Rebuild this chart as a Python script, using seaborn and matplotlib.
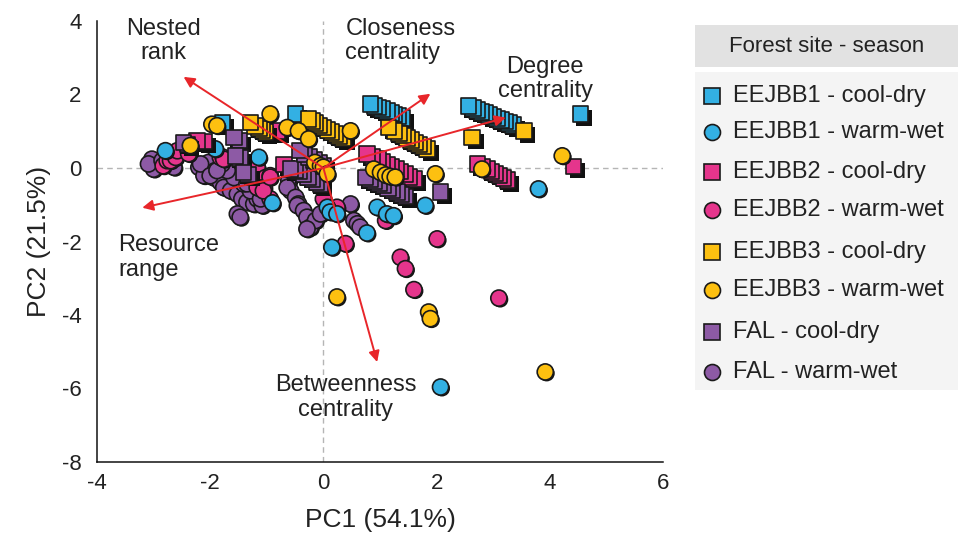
import matplotlib
matplotlib.use("Agg")
import matplotlib.pyplot as plt
import matplotlib.patheffects as pe
import seaborn as sns
import pandas as pd

# ---- data ----
groups = ["EEJBB1", "EEJBB2", "EEJBB3", "FAL"]
seasons = ["cool-dry", "warm-wet"]
colors = {"EEJBB1": "#33B0E3", "EEJBB2": "#E5358C", "EEJBB3": "#FDC010", "FAL": "#8D5AA5"}

# cool-dry (squares)
eejbb1_cd_x = [3.35, 3.28, 3.21, 3.14, 3.07, 3.00, 2.93, 2.86, 2.79, 2.71, 2.64, 2.56, 4.54,
               1.40, 1.33, 1.26, 1.19, 1.12, 1.04, 0.97, 0.90, 0.83, -0.49, -1.78]
eejbb1_cd_y = [1.17, 1.22, 1.26, 1.31, 1.35, 1.40, 1.44, 1.49, 1.53, 1.58, 1.63, 1.69, 1.47,
               1.36, 1.41, 1.45, 1.50, 1.55, 1.60, 1.65, 1.69, 1.74, 1.47, 1.22]

eejbb2_cd_x = [1.60, 1.52, 1.44, 1.36, 1.28, 1.20, 1.12, 1.04, 0.96, 0.87, 0.77,
               3.25, 3.18, 3.11, 3.04, 2.97, 2.90, 2.81, 2.72, 4.42, -0.82, -2.10, -2.23, -0.70]
eejbb2_cd_y = [-0.30, -0.24, -0.17, -0.10, -0.03, 0.03, 0.10, 0.17, 0.24, 0.31, 0.38,
               -0.33, -0.27, -0.21, -0.15, -0.09, -0.03, 0.04, 0.11, 0.04, 1.01, 0.72, 0.74, 0.10]

eejbb3_cd_x = [-1.02, -1.08, -1.14, -1.21, -1.29,
               0.35, 0.28, 0.21, 0.14, 0.07, 0.00, -0.07, -0.14, -0.20, -0.26,
               1.83, 1.76, 1.69, 1.62, 1.55, 1.48, 1.41, 1.34, 1.26, 1.15, 3.54, 2.63]
eejbb3_cd_y = [0.98, 1.03, 1.08, 1.14, 1.24,
               0.80, 0.86, 0.92, 0.98, 1.04, 1.10, 1.16, 1.22, 1.28, 1.33,
               0.52, 0.58, 0.64, 0.70, 0.76, 0.82, 0.88, 0.94, 1.00, 1.10, 1.01, 0.83]

fal_cd_x = [1.45, 1.38, 1.30, 1.22, 1.14, 1.06, 0.98, 0.90, 0.82, 0.74, 2.07,
            -0.05, -0.12, -0.19, -0.27, -0.35, -0.43, -0.50, -0.58,
            0.00, -0.08, -0.17, -0.25, -0.33, -0.41,
            -2.40, -2.47, -1.48, -1.58, -1.47, -1.55, -1.33, -1.41]
fal_cd_y = [-0.78, -0.72, -0.66, -0.60, -0.54, -0.48, -0.42, -0.37, -0.31, -0.26, -0.66,
            -0.45, -0.38, -0.31, -0.24, -0.17, -0.10, -0.05, -0.03,
            0.05, 0.13, 0.22, 0.30, 0.38, 0.47,
            0.64, 0.70, 0.75, 0.83, 0.27, 0.33, -0.18, -0.12]

# warm-wet (circles)
fal_ww_x = [-3.03, -3.00, -3.09, -2.85, -2.64, -2.20, -2.03, -2.11, -1.94, -1.82, -1.76, -1.64,
            -1.52, -1.44, -1.35, -1.23, -1.17, -1.08, -1.29, -1.41, -1.58, -1.70, -1.79, -1.91,
            -2.17, -2.00, -1.88, -1.35, -1.11, -1.52, -1.47,
            -0.61, -0.58, -0.64, -0.49, -0.44, -0.46, -0.35, -0.29, -0.23, -0.14, -0.05, -0.29,
            0.48, 0.54, 0.60, 0.65]
fal_ww_y = [0.24, -0.03, 0.11, 0.20, 0.02, 0.02, 0.15, -0.21, -0.26, -0.39, -0.53, -0.62,
            -0.71, -0.84, -0.93, -0.98, -0.84, -1.02, -0.62, -0.43, -0.26, -0.07, 0.11, -0.07,
            0.11, -0.21, -0.07, -0.43, -0.84, -1.25, -1.34,
            -0.34, -0.62, -0.53, -0.80, -0.98, -1.02, -1.16, -1.34, -1.61, -1.43, -1.25, -1.66,
            -0.98, -1.43, -1.52, -1.61]

eejbb2_ww_x = [-2.83, -2.76, -2.70, -2.61, -2.58, -2.38, -1.82, -1.77, -1.76, -1.35, -1.17,
               -1.02, -1.05, -0.94, -0.94, -1.17, -1.06, -0.94, 0.00, 0.24,
               1.10, 0.39, 1.36, 1.45, 1.60, 2.01, 3.10]
eejbb2_ww_y = [0.06, 0.20, 0.20, 0.29, 0.47, 0.39, 0.29, 0.29, 0.24, 0.02, 0.02,
               -0.26, -0.53, -0.21, -0.84, -0.53, -0.62, -0.25, -0.84, -1.07,
               -1.43, -2.06, -2.43, -2.74, -3.31, -1.93, -3.54]

eejbb1_ww_x = [-2.79, -1.91, -1.14, -0.90, 0.07, 0.12, 0.24, 0.95, 1.12, 1.24,
               0.15, 0.77, 1.80, 3.80, 2.07]
eejbb1_ww_y = [0.47, 0.52, 0.29, -0.95, -1.07, -1.20, -1.25, -1.07, -1.25, -1.30,
               -2.16, -1.77, -1.02, -0.57, -5.96]

eejbb3_ww_x = [-2.35, -1.97, -1.88, -0.94, -0.64, -0.44, -0.26, 0.48, -0.15, -0.05, 0.00, 0.07,
               0.89, 1.01, 1.10, 1.18, 1.27, 1.98, 2.80, 4.22,
               0.24, 1.86, 1.89, 3.92]
eejbb3_ww_y = [0.61, 1.19, 1.15, 1.47, 1.10, 1.01, 0.79, 1.01, 0.15, 0.06, 0.02, -0.16,
               -0.03, -0.12, -0.19, -0.23, -0.25, -0.16, -0.03, 0.33,
               -3.51, -3.92, -4.10, -5.55]

# loadings (arrow tips) and labels
load_names = ["Nested\nrank", "Closeness\ncentrality", "Degree\ncentrality",
              "Resource\nrange", "Betweenness\ncentrality"]
load_x = [-2.47, 1.89, 3.22, -3.20, 0.95]
load_y = [2.48, 2.02, 1.37, -1.08, -5.28]
label_x = [-2.83, 0.39, 3.92, -3.62, 0.39]
label_y = [3.46, 3.46, 2.42, -2.44, -6.24]
label_ha = ["center", "left", "center", "left", "center"]

# drawing order of the series (later ones sit on top)
series = [
    ("FAL", "warm-wet", fal_ww_x, fal_ww_y),
    ("EEJBB2", "warm-wet", eejbb2_ww_x, eejbb2_ww_y),
    ("EEJBB1", "warm-wet", eejbb1_ww_x, eejbb1_ww_y),
    ("EEJBB1", "cool-dry", eejbb1_cd_x, eejbb1_cd_y),
    ("EEJBB2", "cool-dry", eejbb2_cd_x, eejbb2_cd_y),
    ("EEJBB3", "cool-dry", eejbb3_cd_x, eejbb3_cd_y),
    ("FAL", "cool-dry", fal_cd_x, fal_cd_y),
    ("EEJBB3", "warm-wet", eejbb3_ww_x, eejbb3_ww_y),
]

sns.set_style("white")
plt.rcParams["font.family"] = ["Liberation Sans", "DejaVu Sans"]
plt.rcParams["axes.unicode_minus"] = False

fig = plt.figure(figsize=(9.58, 5.42), dpi=100)
ax = fig.add_axes([97 / 958, 80 / 542, 566 / 958, 441 / 542])

ax.axhline(0, color="#b5b5b5", lw=1, ls=(0, (4, 3)), zorder=0)
ax.axvline(0, color="#b5b5b5", lw=1, ls=(0, (4, 3)), zorder=0)

for site, season, xs, ys in series:
    df = pd.DataFrame({"PC1": xs, "PC2": ys})
    square = season == "cool-dry"
    effects = [pe.SimplePatchShadow(offset=(2.8, -2.8) if square else (1, -1),
                                    shadow_rgbFace="#111111", alpha=1), pe.Normal()]
    sns.scatterplot(data=df, x="PC1", y="PC2", ax=ax, color=colors[site],
                    marker="s" if square else "o", s=125 if square else 135,
                    edgecolor="#1a1a1a", linewidth=1.2, legend=False,
                    path_effects=effects, zorder=2)

for name, lx, ly, tx, ty, ha in zip(load_names, load_x, load_y, label_x, label_y, label_ha):
    ax.annotate("", xy=(lx, ly), xytext=(0, 0),
                arrowprops=dict(arrowstyle="-|>", color="#E8262A", lw=1.4,
                                mutation_scale=16, shrinkA=0, shrinkB=0), zorder=3)
    ax.text(tx, ty, name, ha=ha, va="center", multialignment=ha, fontsize=17,
            color="#222222", linespacing=1.15, zorder=4)

ax.set_xlim(-4, 6)
ax.set_ylim(-8, 4)
ax.set_xticks([-4, -2, 0, 2, 4, 6])
ax.set_yticks([-8, -6, -4, -2, 0, 2, 4])
ax.set_xlabel("PC1 (54.1%)", fontsize=19, color="#222222", labelpad=10)
ax.set_ylabel("PC2 (21.5%)", fontsize=19, color="#222222", labelpad=8)
ax.tick_params(axis="x", direction="in", length=5, width=1, labelsize=16, pad=8, colors="#222222")
ax.tick_params(axis="y", direction="out", length=5, width=1, labelsize=16, pad=6, colors="#222222")
for side in ["top", "right"]:
    ax.spines[side].set_visible(False)
for side in ["left", "bottom"]:
    ax.spines[side].set_color("#111111")
    ax.spines[side].set_linewidth(1.1)

# legend panel
hax = fig.add_axes([695 / 958, (542 - 67) / 542, 263 / 958, 42 / 542])
hax.set_facecolor("#e2e2e2")
hax.set_xticks([]); hax.set_yticks([])
for sp in hax.spines.values():
    sp.set_visible(False)
hax.text(0.5, 0.5, "Forest site - season", ha="center", va="center", fontsize=16, color="#222222")

lax = fig.add_axes([695 / 958, (542 - 390) / 542, 263 / 958, 318 / 542])
lax.set_facecolor("#f4f4f4")
lax.set_xticks([]); lax.set_yticks([])
lax.set_xlim(0, 263); lax.set_ylim(390, 72)
for sp in lax.spines.values():
    sp.set_visible(False)
entry_rows = [96, 132, 172, 210, 252, 290, 332, 372]
i = 0
for site in groups:
    for season in seasons:
        mk = "s" if season == "cool-dry" else "o"
        lax.plot([17], [entry_rows[i]], marker=mk, ls="", ms=11.5, mfc=colors[site],
                 mec="#1a1a1a", mew=1.2)
        lax.text(38, entry_rows[i], f"{site} - {season}", va="center", ha="left",
                 fontsize=17, color="#222222")
        i += 1

fig.savefig("out.png", dpi=100)
